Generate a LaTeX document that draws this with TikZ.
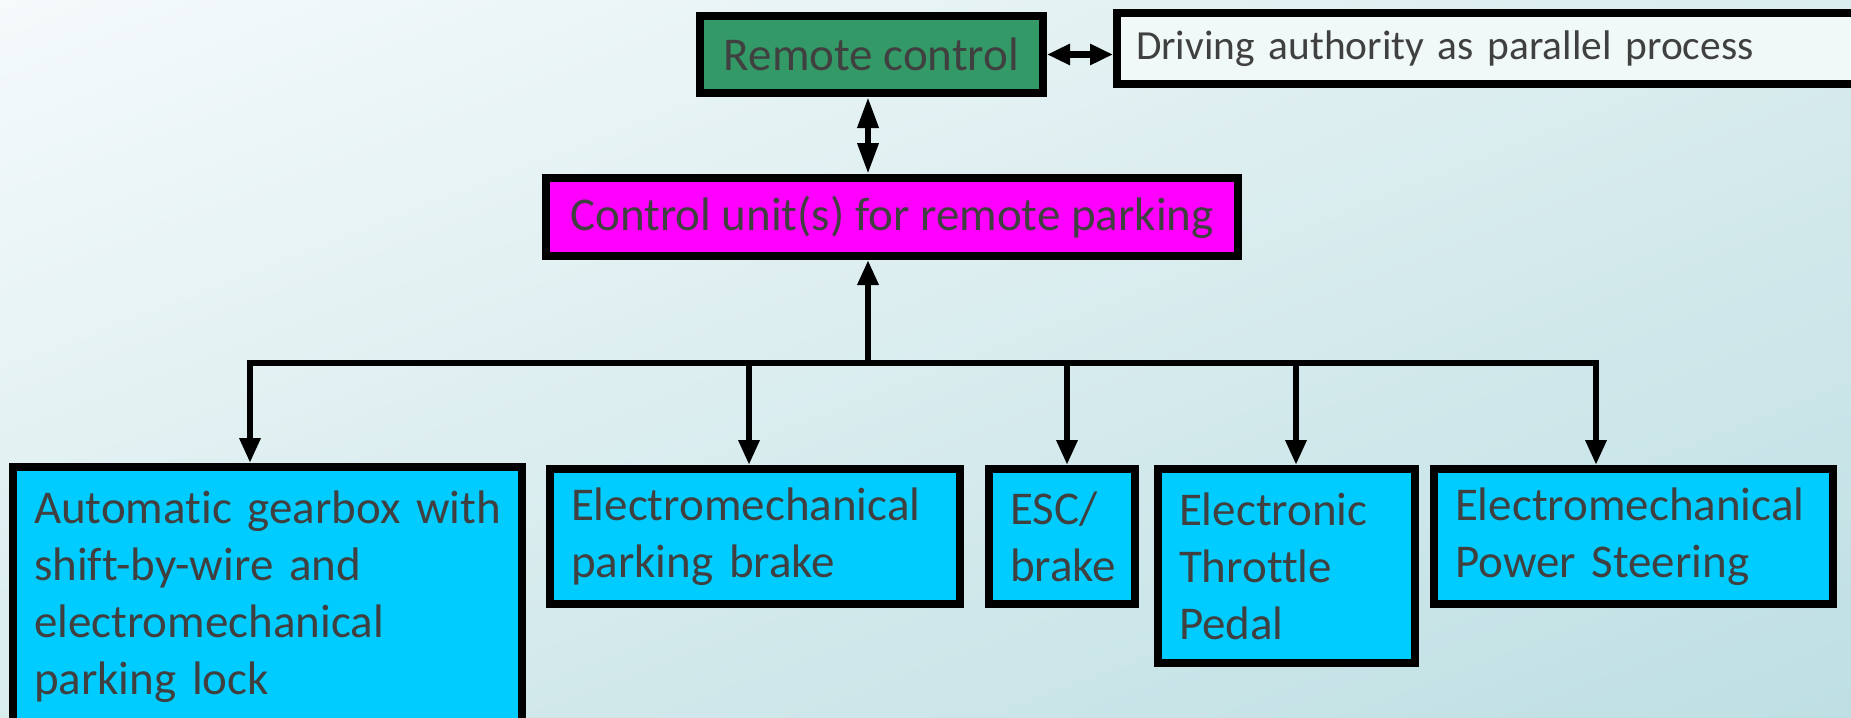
\documentclass[tikz,border=0pt]{standalone}
\usepackage{fontspec}
\setmainfont{Carlito}[Ligatures=CommonOff]
\usetikzlibrary{arrows.meta,shadings}
\definecolor{bgA}{HTML}{F5FAFB}
\definecolor{bgM}{HTML}{D9ECEE}
\definecolor{bgB}{HTML}{BEDFE3}
\definecolor{rcgreen}{HTML}{339966}
\definecolor{cumag}{HTML}{FF00FF}
\definecolor{unitcyan}{HTML}{00CCFF}
\definecolor{drvfill}{HTML}{F0F8F8}
\definecolor{txt}{HTML}{404040}
\begin{document}
\begin{tikzpicture}[x=1pt, y=-1pt,
  box/.style={draw, rectangle, line width=8pt, inner sep=0pt, text=txt, font=\fontsize{47}{57}\selectfont},
  unit/.style={box, fill=unitcyan, align=left, inner xsep=21pt},
  link/.style={line width=6.5pt, -{Triangle[length=25pt,width=20pt]}},
  twoway/.style={line width=6.5pt, {Triangle[length=31pt,width=20pt]}-{Triangle[length=31pt,width=20pt]}},
  pair/.style={line width=6.5pt, {Triangle[length=23pt,width=20pt]}-{Triangle[length=23pt,width=20pt]}}]
\useasboundingbox (0,0) rectangle (1851,717);
\clip (0,0) rectangle (1851,717);
\shade[upper left=bgA, upper right=bgM, lower left=bgM, lower right=bgB] (0,0) rectangle (1851,717);

\node[box, fill=rcgreen, minimum width=343pt, minimum height=77pt] (rc) at (871.5,54.5) {Remote control};
\node[box, fill=drvfill, anchor=west, minimum width=800pt, minimum height=71pt, align=left, text width=762pt, inner xsep=19pt, font=\fontsize{41.4}{50}\selectfont] (drv) at (1113,48.5) {Driving authority as parallel process};
\node[box, fill=cumag, minimum width=692pt, minimum height=78pt] (cu) at (892,217) {Control unit(s) for remote parking};

\node[unit, text width=467pt, minimum height=259pt] (gear) at (267.5,596.5) {\mbox{Automatic gearbox with}\\shift-by-wire and\\electromechanical\\parking lock};
\node[unit, text width=368pt, minimum height=135pt] (epb) at (755,536.5) {Electromechanical\\parking brake};
\node[unit, text width=104pt, minimum height=135pt] (esc) at (1062,536.5) {ESC/\\brake};
\node[unit, text width=215pt, minimum height=194pt] (etp) at (1286.5,566) {Electronic\\Throttle\\Pedal};
\node[unit, text width=357pt, minimum height=135pt] (eps) at (1633.5,536.5) {Electromechanical\\Power Steering};

\coordinate (hub) at (868,363);
\coordinate (d1) at (250,363);
\coordinate (d2) at (749,363);
\coordinate (d3) at (1067,363);
\coordinate (d4) at (1296,363);
\coordinate (d5) at (1596,363);

\draw[pair] (rc.east) -- (rc.east -| drv.west);
\draw[twoway] (rc.south -| hub) -- (hub |- cu.north);
\draw[link] (hub) -- (hub |- cu.south);
\draw[link] (hub) -| (d1 |- gear.north);
\draw[link] (hub) -| (d5 |- eps.north);
\draw[link] (d2) -- (d2 |- epb.north);
\draw[link] (d3) -- (d3 |- esc.north);
\draw[link] (d4) -- (d4 |- etp.north);

\end{tikzpicture}
\end{document}
